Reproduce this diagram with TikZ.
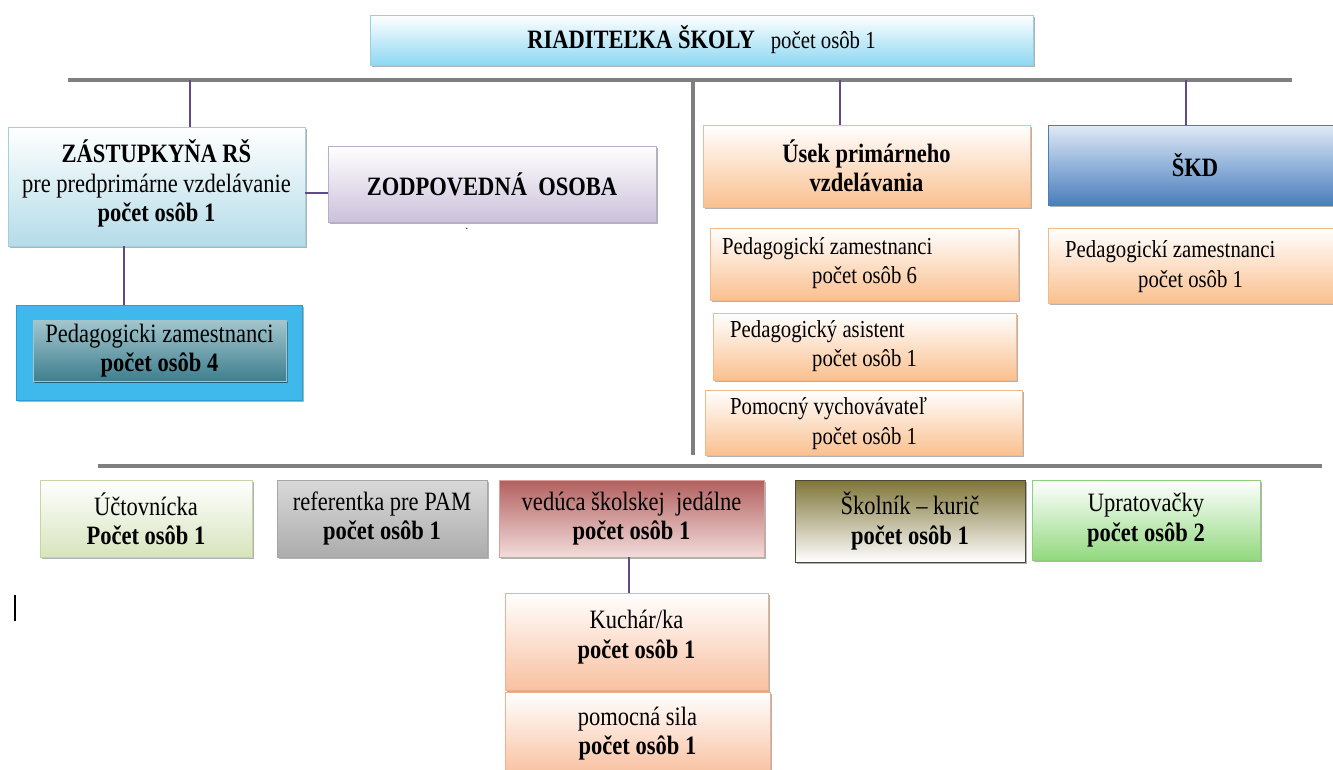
\documentclass[tikz,border=0pt]{standalone}
\usepackage{fontspec}
\setmainfont{Liberation Serif}[FakeStretch=0.85]
\usetikzlibrary{shadows}
\definecolor{conncol}{HTML}{5F4B8B}
\definecolor{barcol}{HTML}{7F7F7F}
\definecolor{dirbot}{HTML}{8ED8F2}
\definecolor{dirbd}{HTML}{9BCFE0}
\definecolor{zastbot}{HTML}{B4DCE8}
\definecolor{zastbd}{HTML}{A5CFDC}
\definecolor{zodpbot}{HTML}{CCC1DA}
\definecolor{zodpbd}{HTML}{B8AECB}
\definecolor{pedout}{HTML}{3FB8EC}
\definecolor{pedoutbd}{HTML}{2A9ED0}
\definecolor{pedintop}{HTML}{A3C6CE}
\definecolor{pedinbot}{HTML}{3E7F8E}
\definecolor{orbot}{HTML}{FAC08F}
\definecolor{orbd}{HTML}{F2B98A}
\definecolor{skdtop}{HTML}{E0EAF5}
\definecolor{skdmid}{HTML}{93B3DA}
\definecolor{skdbot}{HTML}{4A7DBA}
\definecolor{uctbot}{HTML}{D7E4BD}
\definecolor{uctbd}{HTML}{C5D6A5}
\definecolor{veditop}{HTML}{B2605E}
\definecolor{vedbot}{HTML}{F2DCDB}
\definecolor{vedbd}{HTML}{D9A0A0}
\definecolor{skoltop}{HTML}{7F7538}
\definecolor{skolbd}{HTML}{4A4A3A}
\definecolor{uprbot}{HTML}{92D97F}
\definecolor{uprbd}{HTML}{8FCF7C}
\definecolor{kubot}{HTML}{F9C0A0}
\definecolor{kubd}{HTML}{F0B090}
\begin{document}
\begin{tikzpicture}[x=1pt,y=-1pt,
  box/.style={rectangle, inner sep=0pt, align=center,
    font=\fontsize{26.5}{29.5}\selectfont,
    drop shadow={shadow xshift=1.5pt, shadow yshift=-2pt, fill=black, opacity=0.3}},
  conn/.style={draw=conncol, line width=1.5pt},
  bar/.style={draw=barcol, line width=4pt},
  lbl/.style={anchor=base west, inner sep=0pt, font=\fontsize{24.4}{26}\selectfont},
  orange/.style={box, draw=orbd, top color=white, bottom color=orbot},
  peach/.style={box, draw=kubd, top color=white, bottom color=kubot}
]
\useasboundingbox (0,0) rectangle (1333,769);
\clip (0,0) rectangle (1333,769);

% top box
\node[box, draw=dirbd, top color=white, bottom color=dirbot, minimum width=663pt, minimum height=50pt] (dir) at (701.5,40)
  {\textbf{RIADITEĽKA ŠKOLY}\hspace{0.6em}{\fontsize{24.4}{26}\selectfont počet osôb 1}};

% gray bars
\coordinate (tl) at (68,80);
\coordinate (tr) at (1292,80);
\coordinate (vt) at (693,80);
\coordinate (vb) at (693,455);
\coordinate (bl) at (98,466);
\coordinate (br) at (1322,466);
\draw[bar] (tl) -- (tr);
\draw[bar] (vt) -- (vb);
\draw[bar] (bl) -- (br);

% left branch
\node[box, draw=zastbd, top color=white, bottom color=zastbot, minimum width=297pt, minimum height=119pt, text depth=12pt] (zast) at (156.5,186.5)
  {\textbf{ZÁSTUPKYŇA RŠ}\\pre predprimárne vzdelávanie\\\textbf{počet osôb 1}};
\node[box, draw=zodpbd, top color=white, bottom color=zodpbot, minimum width=328pt, minimum height=76pt] (zodp) at (492,184)
  {\textbf{ZODPOVEDNÁ\ \ OSOBA}};
\node[inner sep=0pt, font=\fontsize{12}{12}\selectfont] (dot) at (467,229) {.};
\node[box, draw=pedoutbd, fill=pedout, minimum width=286pt, minimum height=95pt] (ped4) at (159,352.5) {};
\node[box, draw=pedintop, top color=pedintop, bottom color=pedinbot, minimum width=253pt, minimum height=61pt,
  drop shadow={shadow xshift=1pt, shadow yshift=-1.5pt, fill=black, opacity=0.25}] (ped4in) at (159.5,350.5)
  {Pedagogicki zamestnanci\\\textbf{počet osôb 4}};

\coordinate (t1) at (190,80);
\draw[conn] (t1) -- (t1 |- zast.north);
\coordinate (z1) at (305,193);
\draw[conn] (z1) -- (z1 -| zodp.west);
\coordinate (z2) at (124,246);
\draw[conn] (z2) -- (z2 |- ped4.north);

% middle branch
\node[orange, minimum width=327pt, minimum height=82pt] (usek) at (866.5,166)
  {\textbf{Úsek primárneho}\\\textbf{vzdelávania}};
\coordinate (t2) at (840,80);
\draw[conn] (t2) -- (t2 |- usek.north);

\node[orange, minimum width=308pt, minimum height=72pt] (ped6) at (864,264) {};
\node[lbl] (ped6a) at (722,254) {Pedagogickí zamestnanci};
\node[lbl] (ped6b) at (812,283) {počet osôb 6};

\node[orange, minimum width=303pt, minimum height=67pt] (asist) at (864.5,346.5) {};
\node[lbl] (asista) at (730,337) {Pedagogický asistent};
\node[lbl] (asistb) at (812,366) {počet osôb 1};

\node[orange, minimum width=317pt, minimum height=65pt] (pomoc) at (863.5,422.5) {};
\node[lbl] (pomoca) at (730,414) {Pomocný vychovávateľ};
\node[lbl] (pomocb) at (812,444) {počet osôb 1};

% right branch
\node[box, draw=skdbot, top color=skdtop, bottom color=skdbot, middle color=skdmid, minimum width=294pt, minimum height=80pt] (skd) at (1195,165)
  {\textbf{ŠKD}};
\coordinate (t3) at (1186,80);
\draw[conn] (t3) -- (t3 |- skd.north);

\node[orange, minimum width=292pt, minimum height=75pt] (skdped) at (1194,265.5) {};
\node[lbl] (skdpeda) at (1065,257) {Pedagogickí zamestnanci};
\node[lbl] (skdpedb) at (1138,287) {počet osôb 1};

% bottom row
\node[box, draw=uctbd, top color=white, bottom color=uctbot, minimum width=212pt, minimum height=77pt] (uct) at (146,518.5)
  {Účtovnícka\\\textbf{Počet osôb 1}};
\node[box, draw=gray!70, top color=gray!30, middle color=white, bottom color=gray!65, minimum width=210pt, minimum height=77pt] (ref) at (382,518.5)
  {referentka pre PAM\\\textbf{počet osôb 1}};
\node[box, draw=vedbd, top color=veditop, bottom color=vedbot, minimum width=265pt, minimum height=77pt] (ved) at (631.5,518.5)
  {vedúca školskej\ \ jedálne\\\textbf{počet osôb 1}};
\node[box, draw=skolbd, top color=skoltop, bottom color=white, minimum width=230pt, minimum height=82pt] (skol) at (910,521)
  {Školník – kurič\\\textbf{počet osôb 1}};
\node[box, draw=uprbd, top color=white, bottom color=uprbot, minimum width=228pt, minimum height=80pt] (upr) at (1146,520)
  {Upratovačky\\\textbf{počet osôb 2}};

\node[peach, minimum width=263pt, minimum height=97pt, text depth=14pt] (kuch) at (636.5,641.5)
  {Kuchár/ka\\\textbf{počet osôb 1}};
\node[peach, minimum width=265pt, minimum height=83pt] (pomsila) at (637.5,733.5)
  {pomocná sila\\\textbf{počet osôb 1}};
\coordinate (v1) at (629,557);
\draw[conn] (v1) -- (v1 |- kuch.north);

% stray cursor mark
\coordinate (cu1) at (15,595);
\coordinate (cu2) at (15,621);
\draw[line width=1.2pt] (cu1) -- (cu2);
\end{tikzpicture}
\end{document}
